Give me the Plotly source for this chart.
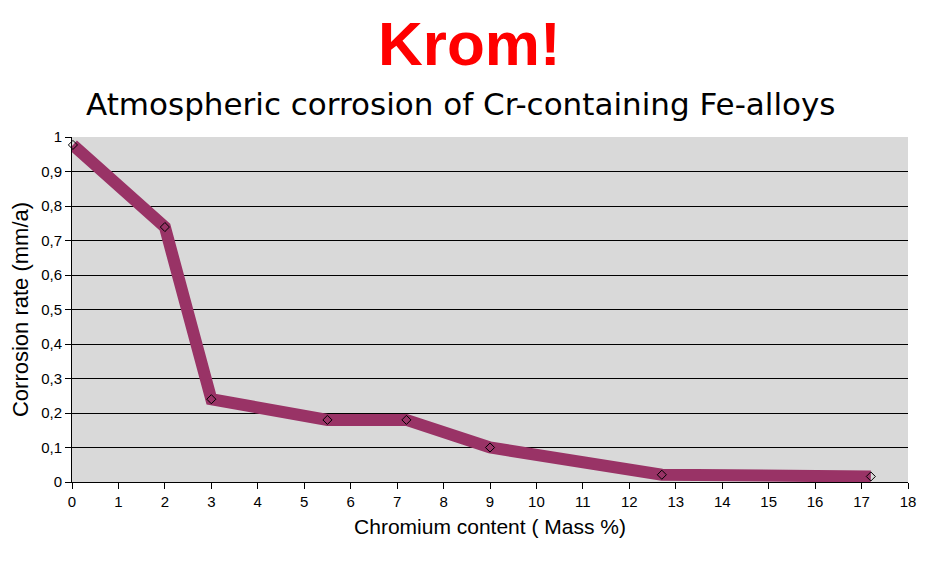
import plotly.graph_objects as go

chromium = [0.02, 2.0, 3.0, 5.5, 7.2, 9.0, 12.7, 17.2]
corrosion = [0.977, 0.739, 0.24, 0.18, 0.18, 0.10, 0.021, 0.016]

# page body has an 8px margin; figure sized to fit the 937x564 window
W, H = 929, 556
ML, MR, MT, MB = 64, 29, 129, 82

fig = go.Figure()
fig.add_trace(go.Scatter(
    x=chromium, y=corrosion, mode="lines",
    line=dict(color="#993366", width=12),
    hoverinfo="skip", showlegend=False,
))
fig.add_trace(go.Scatter(
    x=chromium, y=corrosion, mode="markers",
    marker=dict(symbol="diamond-open", size=7, color="#000000", line=dict(width=1, color="#000000")),
    showlegend=False, cliponaxis=False,
))

plot_h = H - MT - MB
plot_w = W - ML - MR

def ax_x(px):
    return (px - ML) / plot_w

def ax_y(py):
    return (H - MB - py) / plot_h

fig.update_layout(
    width=W, height=H,
    margin=dict(l=ML, r=MR, t=MT, b=MB),
    paper_bgcolor="white", plot_bgcolor="#d9d9d9",
    separators=",.",
    font=dict(family="Liberation Sans, Arial", color="black"),
    xaxis=dict(range=[0, 18], dtick=1, tick0=0, showgrid=False, zeroline=False,
               showline=True, linecolor="black", linewidth=1,
               ticks="outside", ticklen=6, tickcolor="black",
               tickfont=dict(size=15, family="Liberation Sans, Arial"),
               title=dict(text="Chromium content ( Mass %)", font=dict(size=21), standoff=10)),
    yaxis=dict(range=[0, 1], dtick=0.1, tick0=0, showgrid=True, gridcolor="black", gridwidth=1,
               zeroline=False, showline=True, linecolor="black", linewidth=1,
               ticks="outside", ticklen=6, tickcolor="black",
               tickfont=dict(size=15, family="Liberation Sans, Arial"),
               title=dict(text="Corrosion rate (mm/a)", font=dict(size=22), standoff=6)),
    annotations=[
        dict(text="<b>Krom!</b>", x=ax_x(461), y=ax_y(0), xref="paper", yref="paper",
             showarrow=False, xanchor="center", yanchor="top", borderpad=0,
             font=dict(size=62, color="#ff0000", family="Liberation Sans, Arial")),
        dict(text="Atmospheric corrosion of Cr-containing Fe-alloys", x=ax_x(453), y=ax_y(96),
             xref="paper", yref="paper", showarrow=False, xanchor="center", yanchor="middle",
             font=dict(size=31, color="black", family="DejaVu Sans")),
    ],
)

fig.write_html("out.html")
